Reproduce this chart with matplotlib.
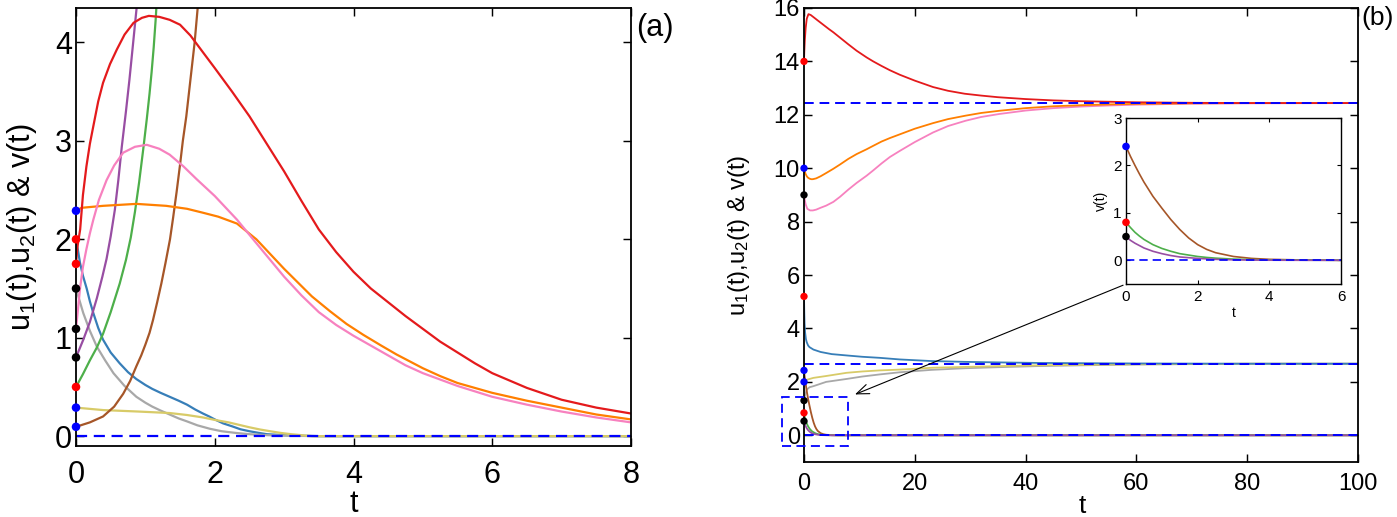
import matplotlib
matplotlib.use('Agg')
import matplotlib.pyplot as plt
from matplotlib.patches import Rectangle

plt.rcParams['font.family'] = ['Liberation Sans', 'DejaVu Sans']
plt.rcParams['mathtext.fontset'] = 'custom'
plt.rcParams['mathtext.rm'] = 'Liberation Sans'
plt.rcParams['mathtext.it'] = 'Liberation Sans:italic'

# ---------------- colours ----------------
C_RED = '#E41A1C'
C_BLUE = '#377EB8'
C_GREEN = '#4DAF4A'
C_PURPLE = '#984EA3'
C_ORANGE = '#FF7F00'
C_YELLOW = '#D8CB68'
C_BROWN = '#A65628'
C_PINK = '#F781BF'
C_GRAY = '#A8A8A8'

# ---------------- panel (a) data ----------------
ta_red = [0, 0.02, 0.06, 0.1, 0.15, 0.2, 0.25, 0.32, 0.39, 0.49, 0.59, 0.7, 0.83, 0.95, 1.05, 1.2, 1.35, 1.5, 1.65, 1.83,
          2.0, 2.25, 2.5, 2.75, 3.0, 3.25, 3.5, 3.75, 4.0, 4.25, 4.5, 4.75, 5.0, 5.25, 5.5, 5.75, 6.0, 6.5, 7.0, 7.5, 8.0]
ya_red = [1.75, 1.92, 2.10, 2.45, 2.74, 2.97, 3.15, 3.40, 3.59, 3.78, 3.93, 4.08, 4.20, 4.25, 4.27, 4.26, 4.23, 4.18, 4.07, 3.90,
          3.74, 3.50, 3.25, 2.97, 2.69, 2.39, 2.10, 1.87, 1.67, 1.50, 1.36, 1.22, 1.09, 0.96, 0.85, 0.74, 0.64, 0.49, 0.37, 0.29, 0.23]

ta_pink = [0, 0.03, 0.058, 0.1, 0.15, 0.2, 0.25, 0.33, 0.44, 0.55, 0.68, 0.85, 1.02, 1.2, 1.35, 1.55, 1.74, 2.0, 2.32, 2.6,
           3.0, 3.25, 3.5, 3.75, 4.0, 4.25, 4.5, 4.75, 5.0, 5.5, 6.0, 6.5, 7.0, 7.5, 8.0]
ya_pink = [1.09, 1.30, 1.50, 1.72, 1.90, 2.06, 2.20, 2.40, 2.60, 2.75, 2.88, 2.94, 2.96, 2.92, 2.86, 2.74, 2.61, 2.44, 2.20, 1.96,
           1.62, 1.43, 1.26, 1.13, 1.02, 0.92, 0.82, 0.72, 0.64, 0.51, 0.40, 0.32, 0.25, 0.19, 0.14]

ta_orange = [0, 0.08, 0.39, 0.87, 1.3, 1.6, 1.83, 2.05, 2.32, 2.6, 2.84, 3.0, 3.2, 3.4, 3.66, 3.9, 4.14, 4.4, 4.62, 5.0,
             5.25, 5.5, 5.75, 6.0, 6.5, 7.0, 7.5, 8.0]
ya_orange = [2.29, 2.32, 2.34, 2.36, 2.34, 2.31, 2.27, 2.23, 2.16, 2.0, 1.82, 1.70, 1.56, 1.42, 1.27, 1.14, 1.03, 0.92, 0.83, 0.69,
             0.61, 0.54, 0.49, 0.44, 0.36, 0.29, 0.22, 0.17]

ta_steel = [0, 0.03, 0.058, 0.1, 0.154, 0.2, 0.25, 0.32, 0.39, 0.5, 0.63, 0.75, 0.87, 1.0, 1.1, 1.22, 1.35, 1.48, 1.6, 1.72,
            1.83, 1.92, 2.0, 2.12, 2.25, 2.37, 2.5, 2.62, 2.75, 3.0, 3.25, 3.5, 8.0]
ya_steel = [2.0, 1.88, 1.76, 1.63, 1.50, 1.37, 1.25, 1.10, 0.98, 0.85, 0.74, 0.65, 0.58, 0.52, 0.48, 0.44, 0.40, 0.36, 0.32, 0.27,
            0.23, 0.20, 0.17, 0.13, 0.10, 0.07, 0.05, 0.035, 0.02, 0.01, 0.004, 0.0, 0.0]

ta_gray = [0, 0.05, 0.105, 0.2, 0.3, 0.42, 0.54, 0.7, 0.87, 1.0, 1.1, 1.22, 1.35, 1.48, 1.6, 1.75, 1.93, 2.1, 2.3, 2.5, 2.75,
           3.0, 3.5, 8.0]
ya_gray = [1.5, 1.38, 1.25, 1.07, 0.91, 0.77, 0.64, 0.51, 0.40, 0.34, 0.30, 0.26, 0.22, 0.18, 0.15, 0.11, 0.075, 0.05, 0.033,
           0.02, 0.01, 0.005, 0.0, 0.0]

ta_yellow = [0, 0.39, 0.9, 1.35, 1.6, 1.83, 2.0, 2.2, 2.35, 2.5, 2.65, 2.8, 2.95, 3.1, 3.25, 3.4, 8.0]
ya_yellow = [0.29, 0.265, 0.25, 0.235, 0.215, 0.19, 0.165, 0.14, 0.115, 0.09, 0.068, 0.05, 0.033, 0.02, 0.01, 0.0, 0.0]

ta_brown = [0, 0.2, 0.39, 0.55, 0.68, 0.78, 0.87, 0.94, 1.0, 1.06, 1.11, 1.17, 1.23, 1.29, 1.355, 1.4, 1.45, 1.5, 1.54, 1.59,
            1.63, 1.67, 1.71, 1.76]
ya_brown = [0.095, 0.14, 0.20, 0.30, 0.43, 0.56, 0.71, 0.82, 0.93, 1.05, 1.18, 1.36, 1.55, 1.76, 2.0, 2.22, 2.48, 2.76, 3.0, 3.25,
            3.5, 3.75, 4.0, 4.4]

ta_green = [0, 0.1, 0.2, 0.3, 0.39, 0.5, 0.63, 0.72, 0.79, 0.85, 0.91, 0.97, 1.02, 1.06, 1.09, 1.12, 1.15, 1.17]
ya_green = [0.5, 0.63, 0.77, 0.90, 1.04, 1.26, 1.55, 1.79, 2.02, 2.28, 2.58, 2.92, 3.22, 3.48, 3.70, 3.95, 4.25, 4.5]

ta_purple = [0, 0.105, 0.2, 0.3, 0.38, 0.44, 0.5, 0.56, 0.61, 0.66, 0.72, 0.77, 0.82, 0.875, 0.9]
ya_purple = [0.8, 0.98, 1.16, 1.40, 1.62, 1.80, 2.03, 2.30, 2.60, 2.94, 3.30, 3.62, 3.97, 4.36, 4.55]

a_dot_y = [2.29, 2.0, 1.75, 1.5, 1.09, 0.8, 0.5, 0.29, 0.095]
a_dot_c = ['#0000FF', '#FF0000', '#FF0000', 'k', 'k', 'k', '#FF0000', '#0000FF', '#0000FF']
a_equil = [0.0]

# ---------------- panel (b) data ----------------
tb_red = [0, 0.05, 0.15, 0.3, 0.5, 0.8, 1.2, 1.7, 2.5, 3.5, 4.5, 5.3, 6.5, 8.0, 9.5, 11.3, 12.5, 14.0, 15.5, 17.3, 20.0,
          23.3, 26, 29.0, 32, 35.0, 40, 45, 50, 55, 60, 70, 80, 100]
yb_red = [14.0, 14.35, 14.8, 15.25, 15.6, 15.77, 15.74, 15.66, 15.53, 15.37, 15.21, 15.09, 14.89, 14.64, 14.40, 14.15, 14.0,
          13.83, 13.67, 13.50, 13.28, 13.04, 12.90, 12.79, 12.72, 12.66, 12.59, 12.54, 12.51, 12.49, 12.47, 12.45, 12.44, 12.44]

tb_orange = [0, 0.15, 0.3, 0.5, 0.7, 1.0, 1.3, 1.6, 2.2, 3.0, 4.0, 5.3, 6.5, 8.0, 9.5, 11.3, 12.5, 14.0, 15.5, 17.3, 20.0,
             23.3, 26, 29.2, 32, 35.2, 40, 45, 50, 55, 60, 70, 80, 100]
yb_orange = [10.0, 9.88, 9.78, 9.7, 9.65, 9.61, 9.59, 9.59, 9.62, 9.70, 9.82, 9.98, 10.14, 10.35, 10.53, 10.71, 10.84, 11.0,
             11.13, 11.27, 11.48, 11.69, 11.84, 11.97, 12.07, 12.15, 12.25, 12.32, 12.36, 12.39, 12.41, 12.43, 12.44, 12.44]

tb_pink = [0, 0.15, 0.3, 0.6, 1.1, 1.6, 2.2, 3.0, 4.0, 5.3, 6.5, 8.0, 9.5, 11.3, 12.5, 14.0, 15.5, 17.3, 20.0, 23.3, 26,
           29.2, 32, 35.2, 40, 45, 50, 55, 60, 70, 80, 100]
yb_pink = [9.0, 8.8, 8.65, 8.48, 8.42, 8.42, 8.45, 8.52, 8.6, 8.74, 8.93, 9.2, 9.45, 9.72, 9.92, 10.18, 10.42, 10.65, 10.98,
           11.34, 11.58, 11.78, 11.92, 12.03, 12.16, 12.25, 12.31, 12.35, 12.38, 12.42, 12.43, 12.44]

tb_steel = [0, 0.05, 0.1, 0.2, 0.35, 0.5, 0.75, 1.0, 1.7, 3.0, 5.0, 7.7, 10.5, 13.7, 17.3, 23, 29, 35, 42, 50, 60, 80, 100]
yb_steel = [5.2, 4.6, 4.2, 3.85, 3.6, 3.48, 3.36, 3.3, 3.21, 3.12, 3.04, 2.99, 2.94, 2.90, 2.84, 2.78, 2.75, 2.73, 2.71, 2.70,
            2.69, 2.68, 2.68]

tb_yellow = [0, 0.5, 1.7, 4, 7.7, 10.5, 13.7, 17.3, 23.3, 29, 35.2, 42, 50, 60, 80, 100]
yb_yellow = [2.0, 2.08, 2.15, 2.22, 2.34, 2.39, 2.43, 2.46, 2.53, 2.56, 2.59, 2.62, 2.64, 2.66, 2.68, 2.68]

tb_gray = [0, 0.2, 0.5, 1.0, 1.7, 4, 7.7, 10.5, 13.7, 17.3, 23, 29, 35, 42, 50, 60, 80, 100]
yb_gray = [1.3, 1.5, 1.71, 1.8, 1.84, 2.0, 2.11, 2.2, 2.28, 2.36, 2.45, 2.51, 2.55, 2.59, 2.62, 2.65, 2.68, 2.68]

tv = [0, 0.125, 0.25, 0.375, 0.5, 0.75, 1.0, 1.25, 1.5, 1.75, 2.0, 2.25, 2.5, 3.0, 3.5, 4.0, 5.0, 6.0, 100]
v_brown = [2.4, 2.19, 2.0, 1.82, 1.65, 1.35, 1.1, 0.86, 0.65, 0.47, 0.33, 0.23, 0.16, 0.08, 0.04, 0.02, 0.005, 0.0, 0.0]
v_green = [0.8, 0.69, 0.59, 0.51, 0.44, 0.33, 0.25, 0.19, 0.14, 0.11, 0.08, 0.06, 0.045, 0.025, 0.014, 0.008, 0.002, 0.0, 0.0]
v_purple = [0.5, 0.42, 0.36, 0.31, 0.26, 0.19, 0.14, 0.10, 0.07, 0.055, 0.04, 0.03, 0.02, 0.01, 0.005, 0.002, 0.0, 0.0, 0.0]

b_dot_y = [14.0, 10.0, 9.0, 5.2, 2.43, 2.0, 1.3, 0.84, 0.53]
b_dot_c = ['#FF0000', '#0000FF', 'k', '#FF0000', '#0000FF', '#0000FF', 'k', '#FF0000', 'k']
b_equil = [12.44, 2.68, 0.0]

inset_dot_y = [2.4, 0.8, 0.5]
inset_dot_c = ['#0000FF', '#FF0000', 'k']

# ---------------- figure ----------------
W, H = 1397, 517
fig = plt.figure(figsize=(W / 100, H / 100), dpi=100)


def fx(px):
    return px / W


def fy(py):
    return 1 - py / H


def style_axes(ax, fs, lw=1.2, tl=5):
    ax.tick_params(direction='in', top=True, right=True, labelsize=fs,
                   width=lw * 0.8, length=tl)
    for s in ax.spines.values():
        s.set_linewidth(lw)


DASH = (5, 3)

# ---- panel (a)
axa = fig.add_axes([fx(76), fy(446), fx(631) - fx(76), fy(8) - fy(446)])
lw_a = 1.6
for t, y, c in [(ta_steel, ya_steel, C_BLUE), (ta_gray, ya_gray, C_GRAY),
                (ta_yellow, ya_yellow, C_YELLOW), (ta_brown, ya_brown, C_BROWN),
                (ta_green, ya_green, C_GREEN), (ta_purple, ya_purple, C_PURPLE),
                (ta_orange, ya_orange, C_ORANGE), (ta_pink, ya_pink, C_PINK),
                (ta_red, ya_red, C_RED)]:
    axa.plot(t, y, color=c, lw=lw_a, solid_joinstyle='round')
for e in a_equil:
    axa.axhline(e, color='#0000FF', lw=1.6, dashes=DASH)
axa.scatter([0] * len(a_dot_y), a_dot_y, c=a_dot_c, s=38, zorder=5, clip_on=False, linewidths=0)
axa.set_xlim(0, 8)
axa.set_ylim(-0.1, 4.35)
axa.set_xticks([0, 2, 4, 6, 8])
axa.set_yticks([0, 1, 2, 3, 4])
style_axes(axa, 22, lw=1.3, tl=6)
axa.tick_params(axis='x', pad=10)
axa.tick_params(axis='y', pad=3)
fig.text(fx(22), fy(227), r'u$_1$(t),u$_2$(t) & v(t)', rotation=90,
         ha='center', va='center', fontsize=22)
fig.text(fx(353.5), fy(504), 't', ha='center', va='center', fontsize=22)
fig.text(fx(655), fy(28), '(a)', ha='center', va='center', fontsize=22)

# ---- panel (b)
axb = fig.add_axes([fx(804), fy(462), fx(1358) - fx(804), fy(8) - fy(462)])
lw_b = 1.3
for t, y, c in [(tb_gray, yb_gray, C_GRAY), (tb_yellow, yb_yellow, C_YELLOW),
                (tb_steel, yb_steel, C_BLUE), (tv, v_brown, C_BROWN),
                (tv, v_green, C_GREEN), (tv, v_purple, C_PURPLE),
                (tb_pink, yb_pink, C_PINK), (tb_orange, yb_orange, C_ORANGE),
                (tb_red, yb_red, C_RED)]:
    axb.plot(t, y, color=c, lw=lw_b, solid_joinstyle='round')
for e in b_equil:
    axb.axhline(e, color='#0000FF', lw=1.4, dashes=DASH)
axb.scatter([0] * len(b_dot_y), b_dot_y, c=b_dot_c, s=28, zorder=5, clip_on=False, linewidths=0)
axb.set_xlim(0, 100)
axb.set_ylim(-1, 16)
axb.set_xticks([0, 20, 40, 60, 80, 100])
axb.set_yticks([0, 2, 4, 6, 8, 10, 12, 14, 16])
style_axes(axb, 17, lw=1.3, tl=6)
axb.tick_params(axis='x', pad=8)
axb.tick_params(axis='y', pad=3)
axb.add_patch(Rectangle((-4, -0.41), 12, 1.83, fill=False, edgecolor='#0000FF',
                        lw=1.3, ls=(0, (5, 3)), clip_on=False, zorder=6))
axb.annotate('', xy=(9.2, 1.53), xytext=(57.6, 5.62),
             arrowprops=dict(arrowstyle='->,head_length=0.9,head_width=0.35',
                             color='k', lw=0.8, shrinkA=0, shrinkB=0))
fig.text(fx(739), fy(235), r'u$_1$(t),u$_2$(t) & v(t)', rotation=90,
         ha='center', va='center', fontsize=17)
fig.text(fx(1082), fy(506), 't', ha='center', va='center', fontsize=19)
fig.text(fx(1378), fy(18), '(b)', ha='center', va='center', fontsize=19)

# ---- inset
axi = fig.add_axes([fx(1126), fy(284), fx(1341) - fx(1126), fy(118) - fy(284)])
for y, c in [(v_brown, C_BROWN), (v_green, C_GREEN), (v_purple, C_PURPLE)]:
    axi.plot(tv, y, color=c, lw=1.2)
axi.axhline(0, color='#0000FF', lw=1.2, dashes=DASH)
axi.scatter([0] * len(inset_dot_y), inset_dot_y, c=inset_dot_c, s=30, zorder=5,
            clip_on=False, linewidths=0)
axi.set_xlim(0, 6)
axi.set_ylim(-0.5, 3)
axi.set_xticks([0, 2, 4, 6])
axi.set_yticks([0, 1, 2, 3])
style_axes(axi, 11, lw=1.0, tl=3)
axi.tick_params(axis='x', pad=4)
axi.tick_params(axis='y', pad=3)
axi.set_ylabel('v(t)', fontsize=10, labelpad=4)
axi.set_xlabel('t', fontsize=10, labelpad=2)

fig.savefig('out.png', dpi=100)
